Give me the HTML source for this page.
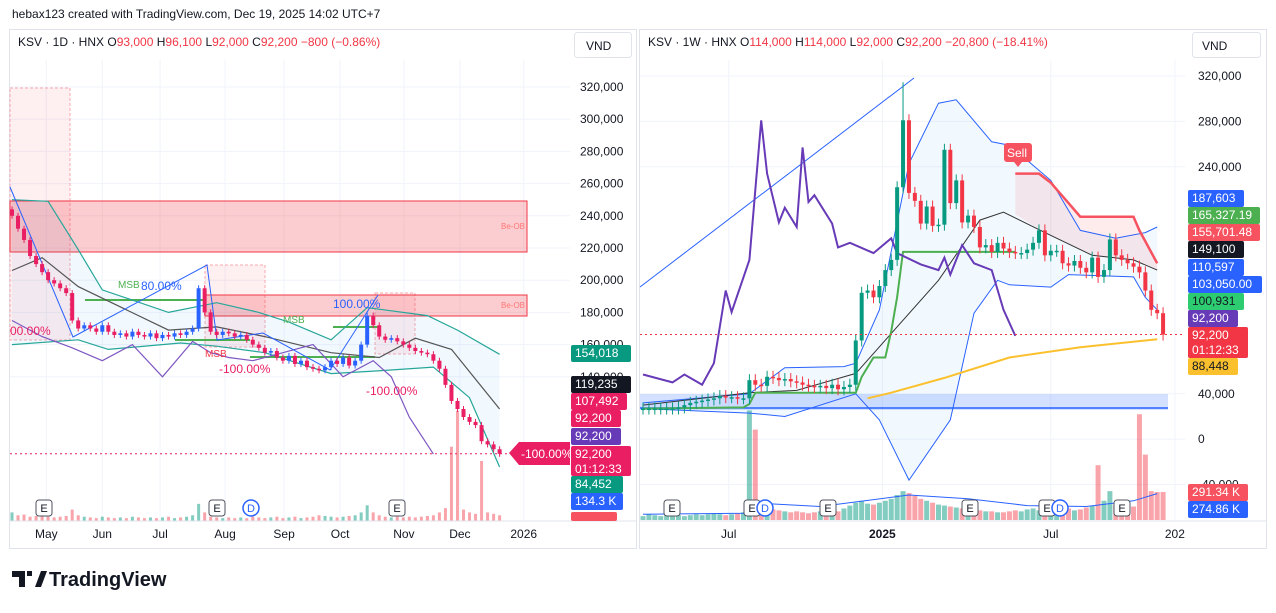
<!DOCTYPE html>
<html><head><meta charset="utf-8">
<style>
body{margin:0;width:1276px;height:608px;background:#fff;font-family:"Liberation Sans",sans-serif;overflow:hidden;position:relative}
svg text{font-family:"Liberation Sans",sans-serif}
</style></head>
<body>
<svg id="s" width="1276" height="608" viewBox="0 0 1276 608" xmlns="http://www.w3.org/2000/svg">
<text x="12" y="18" font-size="12" fill="#131722">hebax123 created with TradingView.com, Dec 19, 2025 14:02 UTC+7</text>
<rect x="9.5" y="29.5" width="627" height="519" fill="#fff" stroke="#e0e3eb"/>
<rect x="639.5" y="29.5" width="627" height="519" fill="#fff" stroke="#e0e3eb"/>
<g id="L"></g><g id="R"></g>
<g font-size="12">
<text x="18" y="46" fill="#131722">KSV · 1D · HNX <tspan>O</tspan><tspan fill="#f23645">93,000</tspan> H<tspan fill="#f23645">96,100</tspan> L<tspan fill="#f23645">92,000</tspan> C<tspan fill="#f23645">92,200 −800 (−0.86%)</tspan></text>
</g>
<rect x="574.5" y="32.5" width="57" height="25" rx="3" fill="#fff" stroke="#e0e3eb"/>
<text x="586" y="50" font-size="12" fill="#131722">VND</text>
<g font-size="12">
<text x="648" y="46" fill="#131722">KSV · 1W · HNX O<tspan fill="#f23645">114,000</tspan> H<tspan fill="#f23645">114,000</tspan> L<tspan fill="#f23645">92,000</tspan> C<tspan fill="#f23645">92,200 −20,800 (−18.41%)</tspan></text>
</g>
<rect x="1192.5" y="32.5" width="68" height="25" rx="3" fill="#fff" stroke="#e0e3eb"/>
<text x="1202" y="50" font-size="12" fill="#131722">VND</text>
<g>
<path d="M12 571h13v16h-6v-10h-7z M27 571h5v5h-5z" fill="#131722"/>
<path d="M35 587l6-16h6l-6 16z" fill="#131722"/>
<text x="49" y="586" font-size="20" font-weight="bold" fill="#131722">TradingView</text>
</g>
</svg>
<script>
// ---------- LEFT (daily) data ----------
const leftCloses=[240,232,225,215,210,205,200,198,195,192,175,170,172,170,168,172,168,166,167,165,168,166,165,167,164,166,165,167,166,168,170,195,180,168,166,168,167,165,166,163,160,158,155,156,152,150,153,148,150,146,145,144,146,150,148,152,147,150,160,178,172,165,163,164,162,160,158,156,155,154,150,145,135,125,120,115,112,110,100,98,95,92.2];
const leftVolumes=[60,40,45,30,35,40,30,25,30,35,80,40,30,25,20,30,25,20,25,20,30,25,20,25,20,25,30,20,25,30,40,120,60,30,25,20,25,20,25,20,30,25,20,25,30,20,25,30,20,25,30,40,35,30,25,30,35,40,60,110,60,40,30,25,30,25,30,25,30,35,40,60,90,520,770,80,60,50,420,60,50,40];
const leftUpperIdx=[0,6,11,15,26,34,41,46,53,59,69,74,81];
const leftUpperVal=[250,249,219,194,180,186,180,174,163,183,178,169,154];
const leftLowerIdx=[0,11,16,28,34,42,53,62,70,76,81];
const leftLowerVal=[160,163,157,161,159,155,142,144,146,127,84];
const leftSmaIdx=[0,5,11,26,34,42,53,61,67,73,81];
const leftSmaVal=[206,214,196,169,171,165,155,152,164,157,120];
const leftPurpleIdx=[0,5,10,15,20,25,30,33,36,40,45,50,55,60,63,66,70];
const leftPurpleVal=[175,165,158,150,160,140,162,155,152,150,155,160,140,150,140,115,92];
const leftTicks=[320000,300000,280000,260000,240000,220000,200000,180000,160000,140000];
const leftMonths=["May","Jun","Jul","Aug","Sep","Oct","Nov","Dec","2026"];
const leftMonthIdx=[5.7,15,24.6,35.4,45.2,54.5,65.1,74.4,85];
// ---------- RIGHT (weekly) data ----------
const rightCloses=[27,27,27,27,27,27,28,30,32,33,34,35,36,38,37,37,36,36,
52,48,47,55,54,52,53,51,50,48,47,46,47,45,48,44,46,48,87,
129,131,125,135,149,158,222,281,217,
210,190,205,188,189,255,208,228,191,197,187,169,171,165,173,168,165,164,164,167,173,184,162,166,166,155,153,157,151,147,160,143,149,176,162,158,155,152,147,131,114,111,92.2];
const rightVolumes=[40,60,50,40,50,60,50,40,50,60,50,60,70,60,50,60,70,80,1140,940,120,150,110,100,90,80,90,80,70,80,90,100,80,90,120,150,180,200,170,160,180,200,220,260,300,280,250,220,200,180,160,150,140,130,120,110,100,100,90,90,80,80,90,100,90,110,120,100,90,110,100,90,120,100,110,130,150,570,200,300,150,130,120,140,1100,680,300,291,291];
const rightUpperIdx=[0,18,24,34,36,40,45,50,53,59,62,69,74,80,85,87];
const rightUpperVal=[32,40,63,64,67,114,243,296,299,262,259,228,184,177,182,187];
const rightLowerIdx=[0,18,24,36,40,45,52,56,60,62,69,72,83,85,87];
const rightLowerVal=[27,23,20,40,17,-36,17,111,140,136,134,145,143,125,114];
const rightSmaIdx=[0,18,26,36,50,57,61,68,76,83,87];
const rightSmaVal=[30,41,43,58,140,193,200,182,162,158,149];
const rightGreenIdx=[0,17,18,19,36,37,39,41,42,43,44,63];
const rightGreenVal=[27,28,31,41,41,55,72,72,95,125,165,165];
const rightRedIdx=[63,67,69,72,74,83,84,87];
const rightRedVal=[234,234,226,208,196,196,184,155];
const rightYellowIdx=[38,42,51,62,74,87];
const rightYellowVal=[36,41,54,72,81,88];
const rightPurpleIdx=[0,5,7,10,12,14,15,18,20,21,23,24,26,27,28,29,32,33,35,39,42,43,47,50,51,52,54,56,59,61,63];
const rightPurpleVal=[57,50,57,48,67,131,112,158,281,234,191,204,187,257,209,215,190,169,173,164,177,164,154,149,160,145,171,155,149,114,91];
const rightVolMaIdx=[0,17,18,30,45,55,65,75,83,87];
const rightVolMaVal=[60,70,180,140,260,220,150,140,200,275];
const rightTicks=[320000,280000,240000,40000,0,-40000];
const rightTimes=["Jul","2025","Jul","202"];
const rightTimeIdx=[14.5,40.5,69,90];

const NS="http://www.w3.org/2000/svg";
function mk(parent,tag,attrs){const e=document.createElementNS(NS,tag);for(const k in attrs)e.setAttribute(k,attrs[k]);parent.appendChild(e);return e;}
const L=document.getElementById('L'),R=document.getElementById('R');
const xL=i=>12+i*6.02, yL=v=>87+(320-v)/20*32.2;
const xR=i=>643+i*5.91, yR=v=>76+(320-v)/40*45.4;
function poly(g,idx,val,xf,yf,stroke,w,name){
  const p=mk(g,'polyline',{points:idx.map((i,k)=>xf(i).toFixed(1)+','+yf(val[k]).toFixed(1)).join(' '),fill:'none',stroke:stroke,'stroke-width':w});
  
  
  return p;
}
function band(g,ui,uv,li,lv,xf,yf,fill,name){
  const pts=ui.map((i,k)=>xf(i)+','+yf(uv[k])).concat(li.slice().reverse().map((i,k)=>xf(i)+','+yf(lv[lv.length-1-k])));
  const p=mk(g,'polygon',{points:pts.join(' '),fill:fill,stroke:'none'});
  
  
}
function label(x,y,h,w,bg,fg,lines,name){
  const g=mk(document.getElementById('s'),'g',{});
  
  
  mk(g,'rect',{x:x,y:y,width:w,height:h,rx:2,fill:bg});
  lines.forEach((t,k)=>{const tx=mk(g,'text',{x:x+4,y:y+12+k*15,'font-size':12,fill:fg});tx.textContent=t;});
}
// ---- Left grid & axes
leftTicks.forEach(v=>{const y=yL(v/1000);
  const l=mk(L,'line',{x1:10,x2:570,y1:y,y2:y,stroke:'#f0f3fa'});
  
  
  const t=mk(L,'text',{x:580,y:y+4,'font-size':12,fill:'#131722'});t.textContent=v.toLocaleString('en-US');
  
  
});
leftMonths.forEach((m,k)=>{const x=xL(leftMonthIdx[k]);
  const l=mk(L,'line',{x1:x,x2:x,y1:60,y2:521,stroke:'#f0f3fa'});
  
  
  const t=mk(L,'text',{x:x,y:538,'font-size':12,fill:'#131722','text-anchor':'middle'});t.textContent=m;
  
  
});
// zones
[[10,88,60,252,'rgba(242,54,69,0.08)'],[205,265,60,82,'rgba(242,54,69,0.08)'],[375,293,40,61,'rgba(242,54,69,0.08)'],[10,201,517,51,'rgba(242,54,69,0.25)'],[205,295,322,21,'rgba(242,54,69,0.25)']].forEach((r,k)=>{
  const e=mk(L,'rect',{x:r[0],y:r[1],width:r[2],height:r[3],fill:r[4],stroke:k>2?'#f23645':'#f7a8ae','stroke-dasharray':k>2?'':'3,2'});
  
  
});
band(L,leftUpperIdx,leftUpperVal,leftLowerIdx,leftLowerVal,xL,yL,'rgba(33,150,243,0.06)','left-band-fill');
// volumes
leftVolumes.forEach((v,i)=>{const h=v/7;
  const r=mk(L,'rect',{x:xL(i)-1.5,y:521-h,width:3,height:h,fill:leftCloses[i]>=(leftCloses[i-1]||0)?'rgba(8,153,129,0.5)':'rgba(242,54,69,0.45)'});
  
  
});
// green MSB lines
[[85,300,205],[250,357,375],[333,327,380],[175,340,250]].forEach(a=>{const l=mk(L,'line',{x1:a[0],x2:a[2],y1:a[1],y2:a[1],stroke:'#4caf50','stroke-width':2});
  
  });
poly(L,leftUpperIdx,leftUpperVal,xL,yL,'#26a69a',1.2,'left-bb-upper');
poly(L,leftLowerIdx,leftLowerVal,xL,yL,'#26a69a',1.2,'left-bb-lower');
poly(L,leftSmaIdx,leftSmaVal,xL,yL,'#555',1.2,'left-sma');
poly(L,leftPurpleIdx,leftPurpleVal,xL,yL,'#7e57c2',1.2,'left-purple-line');
const zz=mk(L,'polyline',{points:'10,187 73,337 207,265 217,340 263,333 330,370 378,295',fill:'none',stroke:'#2962ff','stroke-width':1});


// candles
leftCloses.forEach((c,i)=>{const o=i?leftCloses[i-1]:c+4;const up=c>=o;const col=up?'#2962ff':'#e91e63';
  const y1=yL(Math.max(o,c)),y2=yL(Math.min(o,c));
  const w=mk(L,'line',{x1:xL(i),x2:xL(i),y1:y1-3,y2:y2+3,stroke:col});
  
  
  const b=mk(L,'rect',{x:xL(i)-2,y:y1,width:4,height:Math.max(1.5,y2-y1),fill:col});
  
  
});
const dl=mk(L,'line',{x1:10,x2:570,y1:yL(92.2),y2:yL(92.2),stroke:'#e91e63','stroke-dasharray':'2,3'});


[['MSB',118,288,'#4caf50',10],['80.00%',141,290,'#2962ff',12],['100.00%',333,308,'#2962ff',12],['MSB',283,323,'#4caf50',10],['MSB',205,357,'#f23645',10],['-100.00%',219,373,'#e91e63',12],['-100.00%',366,395,'#e91e63',12],['00.00%',10,335,'#e91e63',12],['Be-OB',501,229,'#f77',8],['Be-OB',501,308,'#f77',8]].forEach(a=>{
  const t=mk(L,'text',{x:a[1],y:a[2],fill:a[3],'font-size':a[4]});t.textContent=a[0];
  
  });
const sep=mk(L,'line',{x1:10,x2:636,y1:521,y2:521,stroke:'#e0e3eb'});


// ---- Right grid & axes
rightTicks.forEach(v=>{const y=yR(v/1000);
  const l=mk(R,'line',{x1:640,x2:1185,y1:y,y2:y,stroke:'#f0f3fa'});
  
  
  const t=mk(R,'text',{x:1198,y:y+4,'font-size':12,fill:'#131722'});t.textContent=v.toLocaleString('en-US');
  
  
});
rightTimes.forEach((m,k)=>{const x=xR(rightTimeIdx[k]);
  const l=mk(R,'line',{x1:x,x2:x,y1:60,y2:521,stroke:'#f0f3fa'});
  
  
  const t=mk(R,'text',{x:x,y:538,'font-size':12,fill:'#131722','text-anchor':'middle','font-weight':m==='2025'?'bold':'normal'});t.textContent=m;
  
  
});
const br=mk(R,'rect',{x:640,y:394,width:528,height:16,fill:'rgba(41,98,255,0.2)'});


const bl=mk(R,'line',{x1:640,x2:1168,y1:408,y2:408,stroke:'#2962ff','stroke-width':1.5});


band(R,rightUpperIdx,rightUpperVal,rightLowerIdx,rightLowerVal,xR,yR,'rgba(33,150,243,0.06)','right-band-fill');
band(R,rightRedIdx,rightRedVal,[63,68,76,83,87],[198,182,162,158,149],xR,yR,'rgba(242,54,69,0.1)','right-red-fill');
rightVolumes.forEach((v,i)=>{const h=v/10.4;
  const r=mk(R,'rect',{x:xR(i)-2.5,y:520-h,width:5,height:h,fill:rightCloses[i]>=(rightCloses[i-1]||0)?'rgba(8,153,129,0.5)':'rgba(242,54,69,0.45)'});
  
  
});
poly(R,rightVolMaIdx,rightVolMaVal.map(v=>v),xR,v=>520-v/10.4,'#2962ff',1,'right-volume-ma');
const diag=mk(R,'line',{x1:640,y1:287,x2:914,y2:78,stroke:'#2962ff','stroke-width':1});


poly(R,rightUpperIdx,rightUpperVal,xR,yR,'#2962ff',1,'right-bb-upper');
poly(R,rightLowerIdx,rightLowerVal,xR,yR,'#2962ff',1,'right-bb-lower');
poly(R,rightSmaIdx,rightSmaVal,xR,yR,'#333',1,'right-sma');
poly(R,rightGreenIdx,rightGreenVal,xR,yR,'#4caf50',2,'right-supertrend-up');
poly(R,rightRedIdx,rightRedVal,xR,yR,'#f7525f',2.5,'right-supertrend-down');
poly(R,rightYellowIdx,rightYellowVal,xR,yR,'#fbc02d',2,'right-long-ma');
poly(R,rightPurpleIdx,rightPurpleVal,xR,yR,'#673ab7',2,'right-purple-line');
rightCloses.forEach((c,i)=>{const o=i?rightCloses[i-1]:c;const up=c>=o;const col=up?'#089981':'#f23645';
  const y1=yR(Math.max(o,c)),y2=yR(Math.min(o,c));
  const w=mk(R,'line',{x1:xR(i),x2:xR(i),y1:y1-(i===44?38:6),y2:y2+6,stroke:col});
  
  
  const b=mk(R,'rect',{x:xR(i)-2,y:y1,width:4,height:Math.max(1.5,y2-y1),fill:col});
  
  
});
const dr=mk(R,'line',{x1:640,x2:1185,y1:yR(92.2),y2:yR(92.2),stroke:'#f23645','stroke-dasharray':'2,3'});


const sell=mk(R,'g',{});


mk(sell,'rect',{x:1004,y:143,width:28,height:19,rx:3,fill:'#f7525f'});
mk(sell,'path',{d:'M1014 162l4 5 4-5z',fill:'#f7525f'});
mk(sell,'text',{x:1007,y:157,'font-size':12,fill:'#fff'}).textContent='Sell';
const sep2=mk(R,'line',{x1:640,x2:1266,y1:521,y2:521,stroke:'#e0e3eb'});


// event markers
[[44,'E','#131722'],[217,'E','#131722'],[397,'E','#131722'],[251,'D','#2962ff'],[672,'E','#131722'],[752,'E','#131722'],[828,'E','#131722'],[970,'E','#131722'],[1047,'E','#131722'],[1122,'E','#131722'],[765,'D','#2962ff'],[1060,'D','#2962ff']].forEach(a=>{
  const g=mk(document.getElementById('s'),'g',{});
  
  
  if(a[1]==='E') mk(g,'rect',{x:a[0]-8,y:500,width:16,height:16,rx:3,fill:'#fff',stroke:'#50535e'});
  else mk(g,'circle',{cx:a[0],cy:508,r:8,fill:'#fff',stroke:a[2],'stroke-width':1.5});
  const t=mk(g,'text',{x:a[0],y:512,'font-size':11,fill:a[2],'text-anchor':'middle'});t.textContent=a[1];
});
// left pct marker
const pm=mk(document.getElementById('s'),'g',{});


mk(pm,'path',{d:'M509 453l10-11h51v23h-51z',fill:'#e91e63'});
mk(pm,'text',{x:521,y:458,'font-size':12,fill:'#fff'}).textContent='-100.00%';
// price labels
label(571,345,17,60,'#089981','#fff',['154,018'],'left-price-label');
label(571,376,17,60,'#131722','#fff',['119,235'],'left-price-label');
label(571,393,17,56,'#e91e63','#fff',['107,492'],'left-price-label');
label(571,410,17,50,'#e91e63','#fff',['92,200'],'left-price-label');
label(571,428,17,50,'#673ab7','#fff',['92,200'],'left-price-label');
label(571,446,30,60,'#e91e63','#fff',['92,200','01:12:33'],'left-last-price-label');
label(571,476,17,52,'#089981','#fff',['84,452'],'left-price-label');
label(571,493,17,52,'#2962ff','#fff',['134.3 K'],'left-volume-label');
label(571,512,9,46,'#f7525f','#fff',[''],'left-volume-label');
label(1188,190,17,56,'#2962ff','#fff',['187,603'],'right-price-label');
label(1188,207,17,72,'#4caf50','#fff',['165,327.19'],'right-price-label');
label(1188,224,17,72,'#f7525f','#fff',['155,701.48'],'right-price-label');
label(1188,241,17,56,'#131722','#fff',['149,100'],'right-price-label');
label(1188,259,17,56,'#2962ff','#fff',['110,597'],'right-price-label');
label(1188,276,17,74,'#2962ff','#fff',['103,050.00'],'right-price-label');
label(1188,293,17,56,'#2ecc71','#131722',['100,931'],'right-price-label');
label(1188,310,17,50,'#673ab7','#fff',['92,200'],'right-price-label');
label(1188,327,31,60,'#f23645','#fff',['92,200','01:12:33'],'right-last-price-label');
label(1188,358,17,50,'#fbc02d','#131722',['88,448'],'right-price-label');
label(1188,484,17,60,'#f7525f','#fff',['291.34 K'],'right-volume-label');
label(1188,501,17,60,'#2962ff','#fff',['274.86 K'],'right-volume-label');
</script>
</body></html>
